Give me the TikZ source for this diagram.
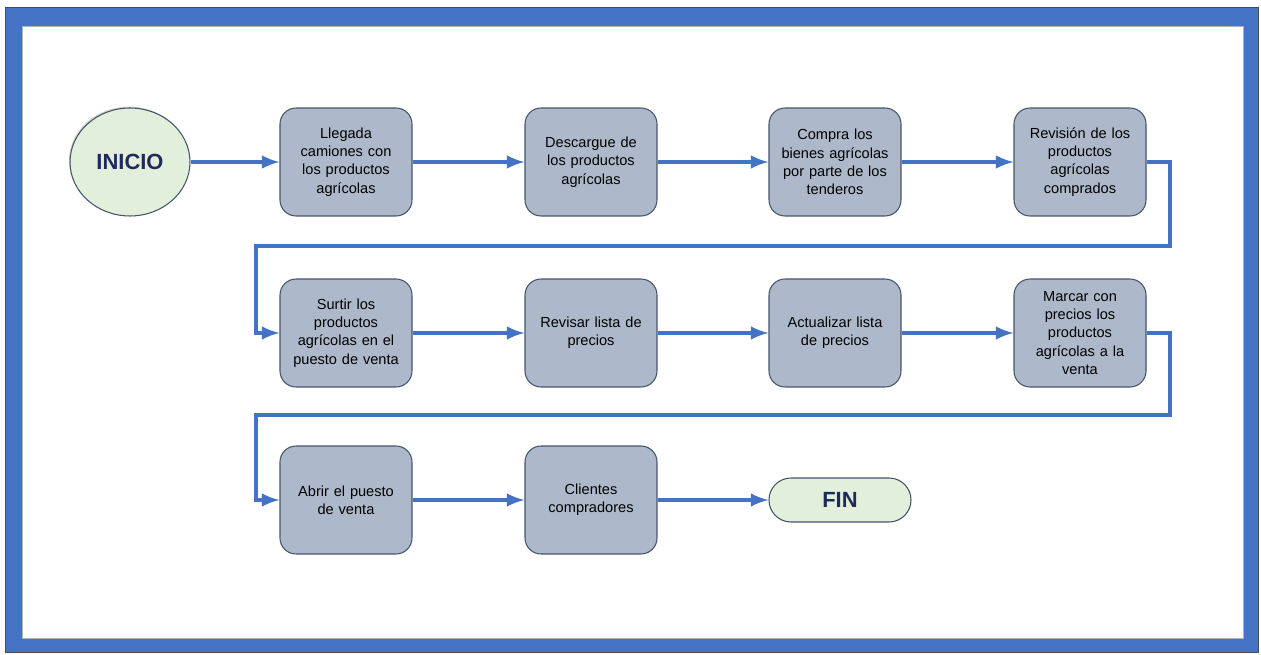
\documentclass[tikz,border=0pt]{standalone}
\usepackage{fontspec}
\setmainfont{Liberation Sans}
\usetikzlibrary{shapes.geometric,shapes.misc,shadows}

\definecolor{frameblue}{HTML}{4472C4}
\definecolor{boxfill}{HTML}{ADB9CA}
\definecolor{boxline}{HTML}{44546A}
\definecolor{endfill}{HTML}{E2EFDA}
\definecolor{endtext}{HTML}{1F2A5C}

\tikzset{
  stepbox/.style={draw=boxline, fill=boxfill, rounded corners=0.32cm, line width=0.6pt,
    minimum width=2.64cm, minimum height=2.16cm, text width=2.4cm, align=center,
    font=\fontsize{8.3}{10.4}\selectfont},
  endbox/.style={draw=boxline, fill=endfill, line width=0.6pt, text=endtext,
    font=\fontsize{12.5}{14}\selectfont\bfseries},
  flow/.style={draw=frameblue, line width=2.4pt, -latex}
}

\begin{document}
\begin{tikzpicture}[x=0.02cm, y=-0.02cm]
            \useasboundingbox (0,0) rectangle (1261,655);
            % frame
            \fill[frameblue, draw=black!70, line width=0.4pt] (5,7) rectangle (1258,652);
            \fill[white, draw=black!30, line width=0.4pt] (22,26) rectangle (1243,638);

            \node (inicio) [endbox, ellipse, minimum width=2.4cm, minimum height=2.16cm,
                drop shadow={shadow xshift=-0.6pt, shadow yshift=0.8pt, opacity=0.35}] at (130,162) {INICIO};
            \node (llegada) [stepbox] at (346,162) {Llegada\\camiones con\\los productos\\agrícolas};
            \node (descargue) [stepbox] at (591,162) {Descargue de\\los productos\\agrícolas};
            \node (compra) [stepbox] at (835,162) {Compra los\\bienes agrícolas\\por parte de los\\tenderos};
            \node (revision) [stepbox] at (1080,162) {Revisión de los\\productos\\agrícolas\\comprados};

            \node (surtir) [stepbox] at (346,333) {Surtir los\\productos\\agrícolas en el\\puesto de venta};
            \node (revisar) [stepbox] at (591,333) {Revisar lista de\\precios};
            \node (actualizar) [stepbox] at (835,333) {Actualizar lista\\de precios};
            \node (marcar) [stepbox] at (1080,333) {Marcar con\\precios los\\productos\\agrícolas a la\\venta};

            \node (abrir) [stepbox] at (346,500) {Abrir el puesto\\de venta};
            \node (clientes) [stepbox] at (591,500) {Clientes\\compradores};
            \node (fin) [endbox, rounded rectangle, minimum width=2.84cm, minimum height=0.88cm,
                inner xsep=1.04cm] at (840,500) {FIN};

            \coordinate (bend1) at (1170,246);
            \coordinate (back1) at (256,246);
            \coordinate (bend2) at (1170,415);
            \coordinate (back2) at (256,415);

            \draw[flow] (inicio) -- (llegada);
            \draw[flow] (llegada) -- (descargue);
            \draw[flow] (descargue) -- (compra);
            \draw[flow] (compra) -- (revision);
            \draw[flow] (revision.east) -| (bend1) -- (back1) |- (surtir.west);
            \draw[flow] (surtir) -- (revisar);
            \draw[flow] (revisar) -- (actualizar);
            \draw[flow] (actualizar) -- (marcar);
            \draw[flow] (marcar.east) -| (bend2) -- (back2) |- (abrir.west);
            \draw[flow] (abrir) -- (clientes);
            \draw[flow] (clientes) -- (fin);
        \end{tikzpicture}
\end{document}
